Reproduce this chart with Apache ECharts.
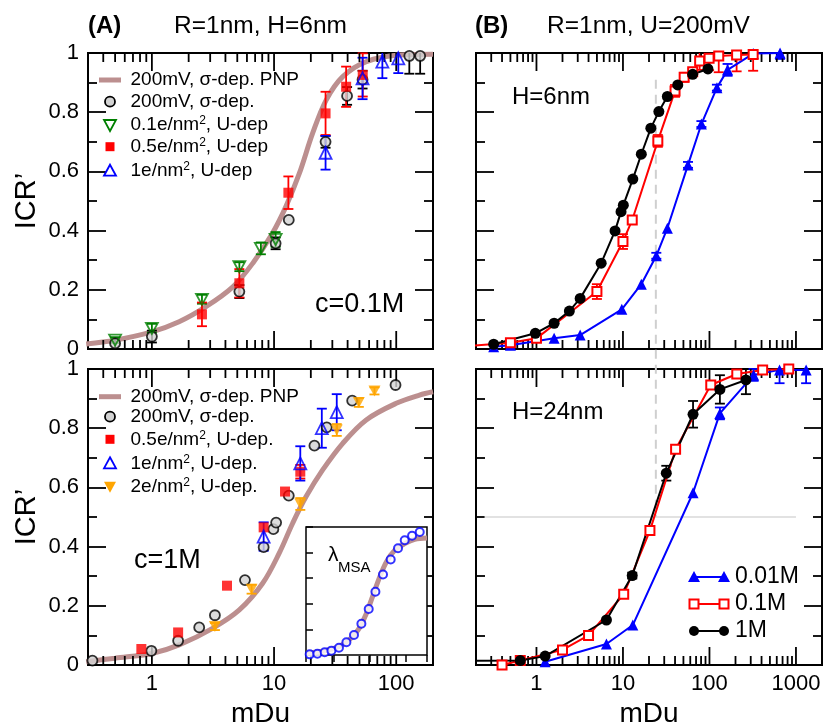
<!DOCTYPE html>
<html>
<head>
<meta charset="utf-8">
<script src="https://cdn.jsdelivr.net/npm/echarts@6/dist/echarts.min.js"></script>
<style>
  html, body { margin: 0; padding: 0; background: #fff; }
  #chart { width: 823px; height: 727px; }
</style>
</head>
<body>
<div id="chart"></div>
<script>
// ---------- data ----------
// Panel A, c = 0.1 M
const pnpA1X = [0.29, 0.5, 1.0, 1.67, 2.77, 4.6, 6.7, 9.7, 12.5, 16.1, 20.7, 26.7, 36.5, 57, 106, 200];
const pnpA1Y = [0.017, 0.030, 0.058, 0.092, 0.143, 0.210, 0.290, 0.391, 0.481, 0.593, 0.729, 0.841, 0.920, 0.971, 0.993, 0.996];
const sigA1X = [0.5, 1.0, 5.2, 10.3, 13.2, 26.4, 39.6, 53, 128, 157];
const sigA1Y = [0.019, 0.042, 0.194, 0.357, 0.436, 0.700, 0.855, 0.910, 0.990, 0.990];
const sigA1E = [0, 0.02, 0.022, 0.02, 0, 0.02, 0.03, 0.03, 0.06, 0.06];
const u01X = [0.5, 1.0, 2.57, 5.2, 7.8, 10.3];
const u01Y = [0.030, 0.070, 0.168, 0.278, 0.340, 0.370];
const u01E = [0.01, 0.015, 0.015, 0.015, 0.02, 0.025];
const u05X = [2.57, 5.2, 13.1, 26.4, 38.9, 53.2];
const u05Y = [0.117, 0.222, 0.528, 0.796, 0.886, 0.926];
const u05E = [0.04, 0.048, 0.055, 0.073, 0.068, 0.073];
const u1X = [26.4, 53, 77, 104];
const u1Y = [0.663, 0.914, 0.971, 0.982];
const u1E = [0.057, 0.07, 0.056, 0.05];

// Panel A, c = 1 M
const pnpA2X = [0.29, 0.5, 1.0, 1.67, 3.14, 5.2, 8.07, 11.0, 14.2, 18.3, 25.0, 36.5, 56.8, 100, 155, 200];
const pnpA2Y = [0.011, 0.023, 0.039, 0.068, 0.124, 0.186, 0.276, 0.377, 0.479, 0.569, 0.659, 0.749, 0.828, 0.884, 0.912, 0.923];
const sigA2X = [0.326, 0.99, 1.64, 2.44, 3.28, 5.78, 8.22, 9.87, 10.4, 13.2, 21.4, 27.0, 43.6, 98.7];
const sigA2Y = [0.015, 0.048, 0.082, 0.127, 0.168, 0.287, 0.398, 0.459, 0.481, 0.572, 0.741, 0.803, 0.893, 0.946];
const u05bX = [0.82, 1.64, 4.12, 8.22, 12.3, 16.4];
const u05bY = [0.054, 0.110, 0.268, 0.465, 0.586, 0.653];
const u05bE = [0, 0, 0, 0, 0, 0.023];
const u1bX = [8.22, 16.4, 24.6, 32.6];
const u1bY = [0.434, 0.681, 0.800, 0.854];
const u1bE = [0.048, 0.058, 0.066, 0.061];
const u2bX = [3.28, 6.55, 16.4, 32.6, 49.4, 66.4];
const u2bY = [0.130, 0.256, 0.544, 0.794, 0.887, 0.926];
const u2bE = [0.012, 0.015, 0.02, 0.02, 0.015, 0.012];

// Inset: lambda_MSA
const lamX = [0.215, 0.352, 0.562, 0.863, 1.40, 2.25, 3.66, 5.87, 9.38, 14.4, 23.4, 38.3, 61.1, 93.8, 150, 245];
const lamY = [0.005, 0.010, 0.021, 0.034, 0.057, 0.099, 0.156, 0.244, 0.359, 0.494, 0.629, 0.746, 0.834, 0.896, 0.932, 0.961];
const lamCurveX = [0.174, 0.70, 2.02, 4.74, 8.07, 12.4, 19.0, 29.0, 49.5, 93.8, 178, 390];
const lamCurveY = [0.013, 0.039, 0.091, 0.195, 0.325, 0.468, 0.610, 0.727, 0.818, 0.870, 0.904, 0.914];

// Panel B, H = 6 nm (points below 0.2 lie off the panel)
const h6c001X = [0.32, 0.5, 1.6, 3.2, 9.7, 16.3, 24.3, 32.6, 56.5, 80.7, 122, 162, 321, 655];
const h6c001Y = [0.008, 0.013, 0.036, 0.047, 0.134, 0.219, 0.315, 0.408, 0.622, 0.760, 0.883, 0.943, 0.998, 1.0];
const h6c001E = [0, 0, 0, 0, 0, 0, 0.01, 0, 0.01, 0.01, 0.01, 0.02, 0, 0.02];
const h6c01X = [0.1, 0.5, 1.0, 5.0, 10.0, 12.8, 25.3, 40, 51, 64, 77, 99, 128, 206, 320];
const h6c01Y = [0.005, 0.021, 0.036, 0.194, 0.363, 0.436, 0.703, 0.872, 0.918, 0.937, 0.973, 0.982, 0.990, 0.993, 0.995];
const h6c01E = [0, 0, 0, 0.025, 0.025, 0, 0.02, 0.02, 0.015, 0.01, 0.03, 0.04, 0.055, 0.055, 0.055];
const h6c1X = [0.32, 0.97, 1.6, 2.4, 3.2, 5.6, 8.1, 9.5, 10.1, 13.0, 16.3, 21, 26, 32.6, 43, 64, 96];
const h6c1Y = [0.016, 0.053, 0.087, 0.128, 0.171, 0.290, 0.399, 0.464, 0.486, 0.574, 0.658, 0.746, 0.802, 0.853, 0.892, 0.928, 0.946];

// Panel B, H = 24 nm
const h24c001X = [1.26, 6.44, 13.0, 64.6, 132, 324, 646, 1310];
const h24c001Y = [0.011, 0.071, 0.135, 0.582, 0.850, 0.980, 0.997, 0.997];
const h24c001E = [0, 0, 0, 0, 0.02, 0.02, 0.045, 0.045];
const h24c01X = [0.4, 0.65, 2.0, 4.0, 10.2, 20.5, 40.6, 103.5, 207, 412, 826];
const h24c01Y = [0.0, 0.015, 0.051, 0.100, 0.239, 0.454, 0.729, 0.946, 0.983, 0.997, 1.0];
const h24c1X = [0.1, 0.65, 1.26, 6.44, 12.8, 31.7, 64.6, 132, 264];
const h24c1Y = [0.014, 0.015, 0.030, 0.152, 0.302, 0.648, 0.847, 0.931, 0.963];
const h24c1E = [0, 0, 0, 0, 0.01, 0.025, 0.045, 0.048, 0.048];

// Guide lines in panel B
const guideX = 24;
const guideTop = 0.91;
const guideLevel = 0.5;
const levelLineX = [0.25, 1000];

// Axis ticks
const leftMajorTicks = [1, 10, 100];
const leftMinorTicks = [0.4, 0.5, 0.6, 0.7, 0.8, 0.9, 2, 3, 4, 5, 6, 7, 8, 9, 20, 30, 40, 50, 60, 70, 80, 90];
const rightMajorTicks = [1, 10, 100, 1000];
const rightMinorTicks = [0.3, 0.4, 0.5, 0.6, 0.7, 0.8, 0.9, 2, 3, 4, 5, 6, 7, 8, 9, 20, 30, 40, 50, 60, 70, 80, 90,
                         200, 300, 400, 500, 600, 700, 800, 900];
const yTickLabels = { 0: '0', 0.2: '0.2', 0.4: '0.4', 0.6: '0.6', 0.8: '0.8', 1: '1' };

// Legend entries
const legendA1 = ['200mV, \u03c3-dep. PNP', '200mV, \u03c3-dep.', '0.1e/nm{s|2}, U-dep', '0.5e/nm{s|2}, U-dep', '1e/nm{s|2}, U-dep'];
const legendA2 = ['200mV, \u03c3-dep. PNP', '200mV, \u03c3-dep.', '0.5e/nm{s|2}, U-dep.', '1e/nm{s|2}, U-dep.', '2e/nm{s|2}, U-dep.'];
const legendB = ['0.01M', '0.1M', '1M'];

// ---------- layout & style ----------
const FONT = '"Liberation Sans", Arial, Helvetica, sans-serif';
const BLACK = '#000', RED = '#ff0000', BLUE = '#0000ff', GREEN = '#008000', ORANGE = '#ffa500';
const PNP = '#bc8f8f', GREYFILL = '#d3d3d3';
const INV_TRI = 'path://M0,0L20,0L10,18Z';

const gridBoxes = [
  { left: 88, top: 53, width: 345, height: 296 },
  { left: 476, top: 53, width: 346, height: 296 },
  { left: 88, top: 369, width: 345, height: 296 },
  { left: 476, top: 369, width: 346, height: 296 }
];
const insetBox = { left: 306, top: 527, width: 121, height: 128 };

const pairs = (xs, ys) => xs.map((x, i) => [x, ys[i]]);
const triples = (xs, ys, es) => xs.map((x, i) => [x, ys[i], es[i]]).filter(d => d[2] > 0);

function errorBars(id, xs, ys, es, color, ax) {
  return {
    type: 'custom', id: id, xAxisIndex: ax, yAxisIndex: ax, z: 3, silent: true,
    data: triples(xs, ys, es),
    renderItem: (params, api) => {
      const x = api.value(0), y = api.value(1), e = api.value(2);
      const lo = y - e, hi = y + e;
      const pLo = api.coord([x, Math.max(lo, 0)]);
      const pHi = api.coord([x, Math.min(hi, 1)]);
      const st = { stroke: color, lineWidth: 1.8 };
      const ch = [{ type: 'line', shape: { x1: pLo[0], y1: pLo[1], x2: pHi[0], y2: pHi[1] }, style: st }];
      if (lo >= 0) ch.push({ type: 'line', shape: { x1: pLo[0] - 5, y1: pLo[1], x2: pLo[0] + 5, y2: pLo[1] }, style: st });
      if (hi <= 1) ch.push({ type: 'line', shape: { x1: pHi[0] - 5, y1: pHi[1], x2: pHi[0] + 5, y2: pHi[1] }, style: st });
      return { type: 'group', children: ch };
    }
  };
}

function xTicks(ax, values, len) {
  return {
    type: 'custom', xAxisIndex: ax, yAxisIndex: ax, z: 4, silent: true,
    data: values.map(v => [v, 0.5]),
    renderItem: (params, api) => {
      const cs = params.coordSys;
      const x = api.coord([api.value(0), 0.5])[0];
      const top = cs.y, bot = cs.y + cs.height;
      const st = { stroke: BLACK, lineWidth: 1.8 };
      return { type: 'group', children: [
        { type: 'line', shape: { x1: x, y1: bot, x2: x, y2: bot - len }, style: st },
        { type: 'line', shape: { x1: x, y1: top, x2: x, y2: top + len }, style: st }
      ] };
    }
  };
}

function scatter(name, xs, ys, ax, symbol, size, itemStyle) {
  return { type: 'scatter', name: name, xAxisIndex: ax, yAxisIndex: ax, z: 5,
           symbol: symbol, symbolSize: size, itemStyle: itemStyle, data: pairs(xs, ys) };
}

function pnpLine(xs, ys, ax, width, z) {
  return { type: 'line', xAxisIndex: ax, yAxisIndex: ax, z: z || 2, smooth: 0.35,
           symbol: 'none', showSymbol: false, lineStyle: { color: PNP, width: width },
           itemStyle: { color: PNP }, data: pairs(xs, ys) };
}

function linked(xs, ys, ax, color, symbol, size, fill) {
  return { type: 'line', xAxisIndex: ax, yAxisIndex: ax, z: 5,
           symbol: symbol, symbolSize: size, showAllSymbol: true,
           lineStyle: { color: color, width: 2 },
           itemStyle: { color: fill, borderColor: color, borderWidth: fill === color ? 0 : 2 },
           data: pairs(xs, ys) };
}

// ---------- axes ----------
const xAxes = gridBoxes.map((g, i) => {
  const right = i % 2 === 1;
  const majors = right ? rightMajorTicks : leftMajorTicks;
  return {
    type: 'log', logBase: 10, gridIndex: i,
    min: right ? 0.2 : 0.3, max: right ? 2000 : 200,
    axisLine: { show: false }, axisTick: { show: false },
    splitLine: { show: false }, minorTick: { show: false },
    axisLabel: {
      show: i >= 2, fontSize: 22, color: BLACK, margin: 8, fontFamily: FONT,
      showMinLabel: false, showMaxLabel: false,
      formatter: v => {
        const hit = majors.find(m => Math.abs(m - v) / m < 1e-6);
        return hit === undefined ? '' : String(hit);
      }
    },
    name: i >= 2 ? 'mDu' : '', nameLocation: 'middle', nameGap: 35,
    nameTextStyle: { fontSize: 28, color: BLACK, fontFamily: FONT }
  };
});
xAxes.push({
  type: 'log', logBase: 10, gridIndex: 4, position: 'top', min: 0.17, max: 390, z: 6,
  axisLine: { show: false }, splitLine: { show: false }, axisLabel: { show: false },
  axisTick: { inside: true, length: 7, lineStyle: { color: BLACK, width: 1.5 } }
});

const yTickBase = {
  type: 'value', min: 0, max: 1, interval: 0.2,
  splitLine: { show: false }, axisLine: { show: false }, minorSplitLine: { show: false },
  axisTick: { inside: true, length: 18, lineStyle: { color: BLACK, width: 1.8 } },
  minorTick: { show: true, splitNumber: 2, length: 9, lineStyle: { color: BLACK, width: 1.8 } }
};
const yAxes = [];
gridBoxes.forEach((g, i) => {
  const labelled = i % 2 === 0;
  yAxes.push(Object.assign({}, yTickBase, {
    gridIndex: i, position: 'left',
    axisLabel: { show: labelled, fontSize: 22, color: BLACK, margin: 9, fontFamily: FONT,
                 formatter: v => yTickLabels[Math.round(v * 10) / 10] || '' },
    name: labelled ? 'ICR\u2019' : '', nameLocation: 'middle', nameGap: 47,
    nameTextStyle: { fontSize: 29, color: BLACK, fontFamily: FONT }
  }));
});
gridBoxes.forEach((g, i) => {
  yAxes.push(Object.assign({}, yTickBase, { gridIndex: i, position: 'right', axisLabel: { show: false } }));
});
yAxes.push({
  type: 'value', gridIndex: 4, min: 0, max: 1, interval: 0.2, z: 6,
  splitLine: { show: false }, axisLine: { show: false }, axisLabel: { show: false },
  axisTick: { inside: true, length: 7, lineStyle: { color: BLACK, width: 1.5 } }
});

// ---------- series ----------
const circleStyle = { color: GREYFILL, borderColor: BLACK, borderWidth: 1.8 };
const openBlue = { color: 'rgba(0,0,0,0)', borderColor: BLUE, borderWidth: 1.8 };
const openGreen = { color: 'rgba(0,0,0,0)', borderColor: GREEN, borderWidth: 1.8 };
const series = [
  // Panel A, c = 0.1 M
  pnpLine(pnpA1X, pnpA1Y, 0, 5),
  errorBars('eA1s', sigA1X, sigA1Y, sigA1E, BLACK, 0),
  scatter('sigma A1', sigA1X, sigA1Y, 0, 'circle', 10, circleStyle),
  errorBars('eA1g', u01X, u01Y, u01E, GREEN, 0),
  scatter('u01 A1', u01X, u01Y, 0, INV_TRI, [12, 11], openGreen),
  errorBars('eA1r', u05X, u05Y, u05E, RED, 0),
  scatter('u05 A1', u05X, u05Y, 0, 'rect', 10, { color: RED }),
  errorBars('eA1b', u1X, u1Y, u1E, BLUE, 0),
  scatter('u1 A1', u1X, u1Y, 0, 'triangle', 12, openBlue),

  // Panel B, H = 6 nm
  errorBars('eB1b', h6c001X, h6c001Y, h6c001E, BLUE, 1),
  linked(h6c001X, h6c001Y, 1, BLUE, 'triangle', 11, BLUE),
  errorBars('eB1r', h6c01X, h6c01Y, h6c01E, RED, 1),
  linked(h6c01X, h6c01Y, 1, RED, 'rect', 9, '#fff'),
  linked(h6c1X, h6c1Y, 1, BLACK, 'circle', 11, BLACK),

  // Panel A, c = 1 M
  pnpLine(pnpA2X, pnpA2Y, 2, 5),
  scatter('sigma A2', sigA2X, sigA2Y, 2, 'circle', 10, circleStyle),
  errorBars('eA2r', u05bX, u05bY, u05bE, RED, 2),
  scatter('u05 A2', u05bX, u05bY, 2, 'rect', 10, { color: RED }),
  errorBars('eA2b', u1bX, u1bY, u1bE, BLUE, 2),
  scatter('u1 A2', u1bX, u1bY, 2, 'triangle', 12, openBlue),
  errorBars('eA2o', u2bX, u2bY, u2bE, ORANGE, 2),
  scatter('u2 A2', u2bX, u2bY, 2, INV_TRI, [12, 11], { color: ORANGE }),

  // Panel B, H = 24 nm
  errorBars('eB2b', h24c001X, h24c001Y, h24c001E, BLUE, 3),
  linked(h24c001X, h24c001Y, 3, BLUE, 'triangle', 11, BLUE),
  linked(h24c01X, h24c01Y, 3, RED, 'rect', 9, '#fff'),
  errorBars('eB2k', h24c1X, h24c1Y, h24c1E, BLACK, 3),
  linked(h24c1X, h24c1Y, 3, BLACK, 'circle', 11, BLACK),

  // Inset
  { type: 'line', xAxisIndex: 4, yAxisIndex: 8, z: 7, smooth: 0.35, symbol: 'none',
    lineStyle: { color: PNP, width: 5 }, data: pairs(lamCurveX, lamCurveY) },
  { type: 'scatter', xAxisIndex: 4, yAxisIndex: 8, z: 8, symbol: 'circle', symbolSize: 8,
    itemStyle: { color: '#fff', borderColor: BLUE, borderWidth: 2 }, data: pairs(lamX, lamY) }
];
for (let i = 0; i < 4; i++) {
  const right = i % 2 === 1;
  series.push(xTicks(i, right ? rightMajorTicks : leftMajorTicks, 18));
  series.push(xTicks(i, right ? rightMinorTicks : leftMinorTicks, 9));
}

const chart = echarts.init(document.getElementById('chart'), null, { renderer: 'canvas' });
chart.setOption({
  animation: false,
  backgroundColor: '#fff',
  textStyle: { fontFamily: FONT },
  grid: gridBoxes.map(g => Object.assign({ show: true, borderColor: BLACK, borderWidth: 2,
                                           backgroundColor: 'transparent', outerBoundsMode: 'none' }, g))
        .concat([Object.assign({ show: false, outerBoundsMode: 'none' }, insetBox)]),
  xAxis: xAxes,
  yAxis: yAxes,
  series: series
});

// ---------- annotations, legends, guide lines ----------
const guideTopPx = chart.convertToPixel({ xAxisIndex: 1, yAxisIndex: 1 }, [guideX, guideTop]);
const guideBotPx = chart.convertToPixel({ xAxisIndex: 3, yAxisIndex: 3 }, [guideX, guideLevel]);
const levelA = chart.convertToPixel({ xAxisIndex: 3, yAxisIndex: 3 }, [levelLineX[0], guideLevel]);
const levelB = chart.convertToPixel({ xAxisIndex: 3, yAxisIndex: 3 }, [levelLineX[1], guideLevel]);

const labels = [
  { text: '(A)', x: 88, y: 26, font: 'bold 24px ' + FONT },
  { text: 'R=1nm, H=6nm', x: 174, y: 26, font: '24.5px ' + FONT },
  { text: '(B)', x: 475, y: 26, font: 'bold 24px ' + FONT },
  { text: 'R=1nm, U=200mV', x: 547, y: 26, font: '24.5px ' + FONT },
  { text: 'c=0.1M', x: 315, y: 305, font: '27px ' + FONT },
  { text: 'c=1M', x: 134, y: 561, font: '27px ' + FONT },
  { text: 'H=6nm', x: 512, y: 97, font: '24px ' + FONT },
  { text: 'H=24nm', x: 512, y: 412, font: '24px ' + FONT },
  { text: '\u03bb', x: 328, y: 555, font: '21px ' + FONT },
  { text: 'MSA', x: 338, y: 568, font: '15px ' + FONT }
];

function mark(shape, cx, cy, style) {
  if (shape === 'triangle') {
    return { type: 'polygon', z: 10, silent: true, shape: { points: [[cx, cy - 6], [cx + 6, cy + 5], [cx - 6, cy + 5]] }, style: style };
  }
  if (shape === 'invtriangle') {
    return { type: 'polygon', z: 10, silent: true, shape: { points: [[cx - 6, cy - 5], [cx + 6, cy - 5], [cx, cy + 6]] }, style: style };
  }
  if (shape === 'rect') {
    return { type: 'rect', z: 10, silent: true, shape: { x: cx - 4.5, y: cy - 4.5, width: 9, height: 9 }, style: style };
  }
  if (shape === 'line') {
    return { type: 'line', z: 10, silent: true, shape: { x1: cx - 11, y1: cy, x2: cx + 11, y2: cy }, style: style };
  }
  return { type: 'circle', z: 10, silent: true, shape: { cx: cx, cy: cy, r: 5 }, style: style };
}

const legendRich = { s: { fontSize: 12, lineHeight: 10, verticalAlign: 'top', fontFamily: FONT, fill: BLACK } };
function legendText(text, x, y, size) {
  return { type: 'text', z: 10, silent: true, x: x, y: y,
           style: { text: text, font: size + 'px ' + FONT, fontSize: size, fontFamily: FONT, lineHeight: 20,
                    fill: BLACK, textAlign: 'left', textVerticalAlign: 'middle', rich: legendRich } };
}

const graphics = [
  { type: 'line', z: 1, silent: true,
    shape: { x1: guideTopPx[0], y1: guideTopPx[1], x2: guideBotPx[0], y2: guideBotPx[1] },
    style: { stroke: '#cfcfcf', lineWidth: 2, lineDash: [9, 6] } },
  { type: 'line', z: 1, silent: true,
    shape: { x1: levelA[0], y1: levelA[1], x2: levelB[0], y2: levelB[1] },
    style: { stroke: '#d9d9d9', lineWidth: 1.5 } },
  { type: 'rect', z: 5, silent: true,
    shape: { x: insetBox.left, y: insetBox.top, width: insetBox.width, height: insetBox.height },
    style: { fill: '#fff', stroke: BLACK, lineWidth: 1.5 } }
];
labels.forEach(l => graphics.push({
  type: 'text', z: 10, silent: true, x: l.x, y: l.y,
  style: { text: l.text, font: l.font, fill: BLACK, textAlign: 'left', textVerticalAlign: 'middle' }
}));

// Panel A legends
const pnpStyle = { stroke: PNP, lineWidth: 5 };
const greyCircle = { fill: GREYFILL, stroke: BLACK, lineWidth: 1.8 };
const legendA1Marks = [['line', pnpStyle], ['circle', greyCircle],
  ['invtriangle', { fill: 'none', stroke: GREEN, lineWidth: 1.8 }],
  ['rect', { fill: RED }],
  ['triangle', { fill: 'none', stroke: BLUE, lineWidth: 1.8 }]];
const legendA2Marks = [['line', pnpStyle], ['circle', greyCircle],
  ['rect', { fill: RED }],
  ['triangle', { fill: 'none', stroke: BLUE, lineWidth: 1.8 }],
  ['invtriangle', { fill: ORANGE }]];
const legendA1Rows = [80, 101.7, 125, 146.7, 170.7];
const legendA2Rows = [396.7, 416.7, 439.3, 463.3, 486.7];
legendA1.forEach((t, i) => {
  graphics.push(mark(legendA1Marks[i][0], 110, legendA1Rows[i], legendA1Marks[i][1]));
  graphics.push(legendText(t, 130.5, legendA1Rows[i], 19));
});
legendA2.forEach((t, i) => {
  graphics.push(mark(legendA2Marks[i][0], 110, legendA2Rows[i], legendA2Marks[i][1]));
  graphics.push(legendText(t, 130.5, legendA2Rows[i], 19));
});

// Panel B legend: line with a marker at each end
const legendBMarks = [['triangle', BLUE, { fill: BLUE }], ['rect', RED, { fill: '#fff', stroke: RED, lineWidth: 2 }],
                      ['circle', BLACK, { fill: BLACK }]];
const legendBRows = [577, 604, 631];
legendB.forEach((t, i) => {
  const y = legendBRows[i], m = legendBMarks[i];
  graphics.push({ type: 'line', z: 9, silent: true, shape: { x1: 694, y1: y, x2: 724, y2: y },
                  style: { stroke: m[1], lineWidth: 2 } });
  graphics.push(mark(m[0], 694, y, m[2]));
  graphics.push(mark(m[0], 724, y, m[2]));
  graphics.push(legendText(t, 735, y, 23));
});
chart.setOption({ graphic: { elements: graphics } });
</script>
</body>
</html>
